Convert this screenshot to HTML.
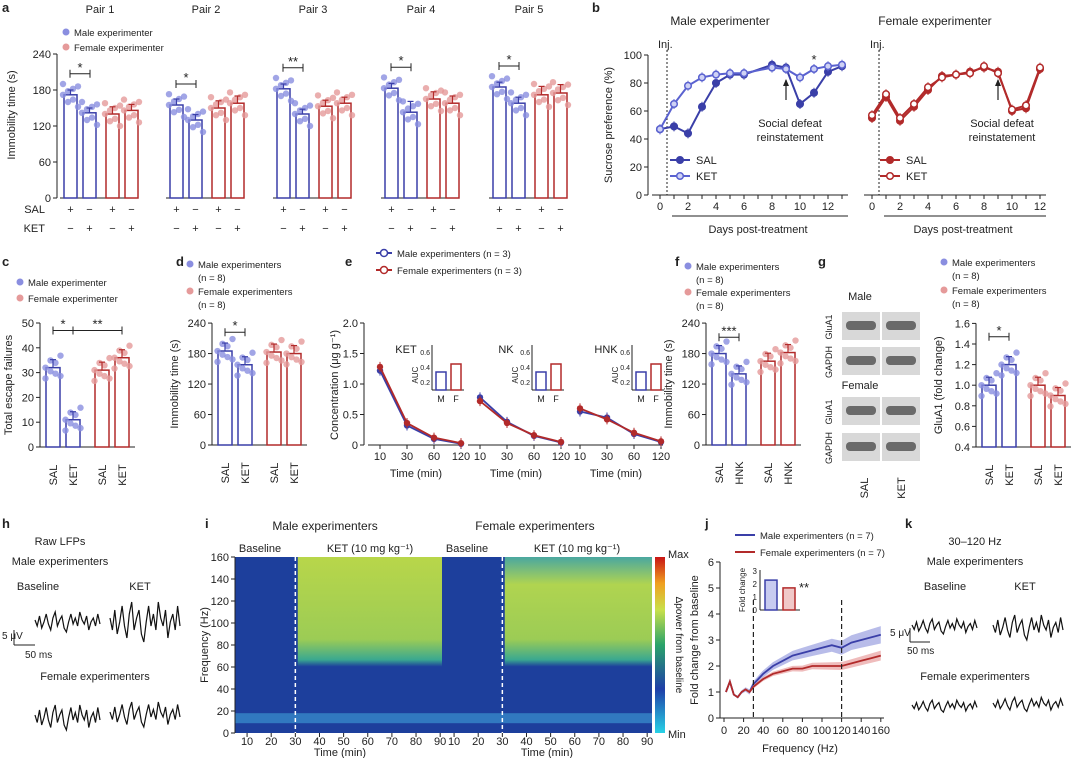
<!DOCTYPE html>
<html><head><meta charset="utf-8">
<style>
body{margin:0;background:#fff;}
svg{display:block;font-family:"Liberation Sans",sans-serif;}
text{fill:#222;}
</style></head>
<body>
<svg id="fig" width="1080" height="758" viewBox="0 0 1080 758" xmlns="http://www.w3.org/2000/svg">
<defs>
<linearGradient id="cbar" x1="0" y1="1" x2="0" y2="0">
<stop offset="0" stop-color="#28d2e6"/><stop offset="0.25" stop-color="#1f3fa8"/><stop offset="0.5" stop-color="#2aa36a"/><stop offset="0.7" stop-color="#c9e04a"/><stop offset="0.85" stop-color="#f0a020"/><stop offset="1" stop-color="#c81414"/>
</linearGradient>
<linearGradient id="hotM" x1="0" y1="0" x2="0" y2="1">
<stop offset="0" stop-color="#b8d64a"/><stop offset="0.6" stop-color="#9ccc55"/><stop offset="0.75" stop-color="#3aa890"/><stop offset="0.8" stop-color="#1d3f9c"/><stop offset="1" stop-color="#1d3f9c"/>
</linearGradient>
<linearGradient id="hotF" x1="0" y1="0" x2="0" y2="1">
<stop offset="0" stop-color="#4aa7a0"/><stop offset="0.2" stop-color="#b0d450"/><stop offset="0.6" stop-color="#9ccc55"/><stop offset="0.75" stop-color="#3aa890"/><stop offset="0.8" stop-color="#1d3f9c"/><stop offset="1" stop-color="#1d3f9c"/>
</linearGradient>
</defs>
<g id="root"></g>
</svg>
<script>
// ---------- data ----------
const pairNames=["Pair 1","Pair 2","Pair 3","Pair 4","Pair 5"];
const pairVals=[[172,142,140,146],[155,130,150,158],[182,140,153,158],[183,143,165,158],[185,158,172,175]];
const pairErr=[[8,8,12,10],[10,9,12,12],[8,8,10,10],[8,18,12,12],[8,10,14,14]];
const yTicksA=[0,60,120,180,240];
const days=[0,1,2,3,4,5,6,8,9,10,11,12,13];
const maleSAL=[47,49,44,63,80,86,86,93,91,65,73,88,92];
const maleKET=[47,65,78,84,86,87,87,91,90,84,90,92,93];
const daysF=[0,1,2,3,4,5,6,7,8,9,10,11,12];
const femSAL=[55,70,53,63,75,85,86,88,91,88,60,62,90];
const femKET=[57,72,55,65,77,84,86,87,92,87,61,64,91];
const yTicksB=[0,20,40,60,80,100];
const cVals=[32,11,31,36];
const dVals=[185,158,183,180];
const fVals=[180,140,165,182];
const gVals=[1.0,1.2,1.0,0.9];
const eTimes=[10,30,60,120];
const eKET_M=[1.22,0.32,0.1,0.02];const eKET_F=[1.28,0.36,0.12,0.03];
const eNK_M=[0.78,0.38,0.15,0.04];const eNK_F=[0.72,0.36,0.16,0.05];
const eHNK_M=[0.55,0.45,0.18,0.05];const eHNK_F=[0.6,0.42,0.2,0.06];
const jFreq=[2,6,10,14,18,22,26,30,40,50,60,70,80,90,100,110,120,130,140,150,160];
const jMale=[1.0,1.4,0.9,0.8,1.0,1.1,1.0,1.3,1.7,2.0,2.2,2.4,2.5,2.6,2.7,2.8,2.7,2.9,3.0,3.1,3.2];
const jFem=[1.0,1.4,0.9,0.8,1.0,1.1,1.0,1.2,1.5,1.7,1.8,1.9,1.9,2.0,2.0,2.0,2.0,2.1,2.2,2.3,2.4];
const jInset=[2.3,1.7];
const trace=[0,3,-2,4,1,-3,2,5,-1,-4,3,0,-2,4,6,1,-3,2,-1,3,-4,0,2,-2,5,1,-1,3,-3,2];
const jitter=[0,-12,10,-20,18,6,-8,14];
// ---------- helpers ----------
const NS="http://www.w3.org/2000/svg";const root=document.getElementById('root');
function el(tag,attrs,parent,txt){const e=document.createElementNS(NS,tag);for(const k in attrs)e.setAttribute(k,attrs[k]);if(txt!==undefined)e.textContent=txt;(parent||root).appendChild(e);return e;}
function T(x,y,s,size,opt){opt=opt||{};const e=el('text',{x:x,y:y,'font-size':size||11,'text-anchor':opt.a||'start'},null,s);if(opt.b)e.setAttribute('font-weight','bold');if(opt.rot)e.setAttribute('transform',`rotate(${opt.rot} ${x} ${y})`);

return e;}
function L(x1,y1,x2,y2,c,w,d){const e=el('line',{x1:x1,y1:y1,x2:x2,y2:y2,stroke:c||'#222','stroke-width':w||1});if(d)e.setAttribute('stroke-dasharray',d);return e;}
const BL='#3a3fa8',RD='#b22a2a',BLF='#8a8ee0',RDF='#e59a9a';
function yAxis(x,yOf,ticks,fmt,name){const g=el('g',{});
el('line',{x1:x,y1:yOf(ticks[0]),x2:x,y2:yOf(ticks[ticks.length-1]),stroke:'#222'},g);
ticks.forEach(t=>{el('line',{x1:x-4,y1:yOf(t),x2:x,y2:yOf(t),stroke:'#222'},g);el('text',{x:x-6,y:yOf(t)+4,'font-size':11,'text-anchor':'end'},g,fmt?fmt(t):t);});}
function bar(x,w,y0,yv,col,fill,name){const r=el('rect',{x:x,y:Math.min(y0,yv),width:w,height:Math.abs(y0-yv),fill:fill,stroke:col,'stroke-width':1.5});return r;}
function dots(cx,yOf,col,n,spread){for(let i=0;i<n;i++){const off=((i%4)-1.5)*spread/2;const c=el('circle',{cx:cx+off,cy:yOf(jitter[i%8]),r:3.2,fill:col,opacity:0.8});}}
function errbar(x,y1,y2,col){L(x,y1,x,y2,col,1.2);L(x-3,y2,x+3,y2,col,1.2);}
function sig(x1,x2,y,s){L(x1,y,x2,y,'#222',1);L(x1,y-4,x1,y+4);L(x2,y-4,x2,y+4);T((x1+x2)/2,y-2,s,13,{a:'middle',name:'significance'});}
function panelLetter(x,y,s){T(x,y,s,13,{b:true,name:'panel-letter-'+s});}

// ---------- panel a ----------
panelLetter(2,12,'a');
const yA=v=>198-v*0.6;
yAxis(57,yA,yTicksA,null,'y-axis-a');
T(15,115,'Immobility time (s)',11,{a:'middle',rot:-90,name:'y-axis-title-a'});
const groupX=[60,166,273,381,489];
pairNames.forEach((p,gi)=>{const gx=groupX[gi];T(gx+40,13,p,11,{a:'middle',name:'pair-title'});
 L(gx,198,gx+78,198);
 const xs=[gx+4,gx+23,gx+46,gx+65];
 pairVals[gi].forEach((v,i)=>{const col=i<2?BL:RD;const fc=i<2?BLF:RDF;
  bar(xs[i],13,198,yA(v),col,'none','bar-'+p.replace(' ','').toLowerCase()+'-'+i);
  dots(xs[i]+6.5,d=>yA(v+d),fc,8,10);
  errbar(xs[i]+6.5,yA(v),yA(v+pairErr[gi][i]),col);
  T(xs[i]+6.5,213,i%2===0?'+':'−',11,{a:'middle',name:'sal-sign'});T(xs[i]+6.5,232,i%2===1?'+':'−',11,{a:'middle',name:'ket-sign'});
 });
 sig(xs[0]+6,xs[1]+7,yA(Math.max(pairVals[gi][0],pairVals[gi][1])+35),gi===2?'**':'*');
});
T(45,213,'SAL',11,{a:'end',name:'sal-row-label'});T(45,232,'KET',11,{a:'end',name:'ket-row-label'});
el('circle',{cx:66,cy:32,r:3.5,fill:BLF});T(74,36,'Male experimenter',9.5,{name:'legend-male'});
el('circle',{cx:66,cy:47,r:3.5,fill:RDF});T(74,51,'Female experimenter',9.5,{name:'legend-female'});

// ---------- panel b ----------
panelLetter(592,12,'b');
const yB=v=>195-v*1.4;
yAxis(648,yB,yTicksB,null,'y-axis-b');
T(612,125,'Sucrose preference (%)',11,{a:'middle',rot:-90,name:'y-axis-title-b'});
function lineSeries(xOf,xs,ys,col,fill,name){const d=xs.map((x,i)=>(i?'L':'M')+xOf(x)+','+yB(ys[i])).join('');const p=el('path',{d:d,stroke:col,'stroke-width':2,fill:'none'});
 xs.forEach((x,i)=>{L(xOf(x),yB(ys[i])-5,xOf(x),yB(ys[i])+5,col,1);const c=el('circle',{cx:xOf(x),cy:yB(ys[i]),r:3.3,fill:fill,stroke:col,'stroke-width':1.5});});}
const xBM=d=>660+d*14;const xBF=d=>872+d*14;
T(720,25,'Male experimenter',12,{a:'middle',name:'title-b-male'});T(935,25,'Female experimenter',12,{a:'middle',name:'title-b-female'});
[[xBM,13,'male'],[xBF,12,'female']].forEach(([xf,mx,nm])=>{L(xf(0)-8,195,xf(mx)+6,195);
 for(let d=0;d<=mx;d++){L(xf(d),195,xf(d),199);}
 [0,2,4,6,8,10,12].forEach(d=>T(xf(d),210,d,11,{a:'middle',name:'x-tick-b'}));
 L(xf(1)-2,216,xf(mx)+6,216,'#222',1);
 L(xf(0.5),50,xf(0.5),195,'#222',1,'2,2');T(xf(0)-2,48,'Inj.',11,{name:'injection-label'});
 T((xf(1)+xf(mx))/2,233,'Days post-treatment',11,{a:'middle',name:'x-axis-title-b-'+nm});
 L(xf(9),100,xf(9),80,'#222',1.2);el('path',{d:`M${xf(9)-3},86 L${xf(9)},79 L${xf(9)+3},86Z`,fill:'#222'});
 T(xf(9)+4,127,'Social defeat',11,{a:'middle',name:'annotation'});T(xf(9)+4,141,'reinstatement',11,{a:'middle',name:'annotation'});});
lineSeries(xBM,days,maleSAL,BL,BL,'male-sal');lineSeries(xBM,days,maleKET,'#5a62d0','#cfd2f5','male-ket');
lineSeries(xBF,daysF,femSAL,RD,RD,'female-sal');lineSeries(xBF,daysF,femKET,RD,'#fff','female-ket');
T(xBM(11),64,'*',13,{a:'middle',name:'significance'});
[[670,BL,BL,'SAL',160],[670,'#5a62d0','#cfd2f5','KET',176],[880,RD,RD,'SAL',160],[880,RD,'#fff','KET',176]].forEach(([x,c,f,s,y])=>{L(x,y,x+20,y,c,2);el('circle',{cx:x+10,cy:y,r:3.3,fill:f,stroke:c,'stroke-width':1.5});T(x+26,y+4,s,11,{name:'legend-b'});});

// ---------- generic small bar panel ----------
function smallBars(x0,yOf,ticks,vals,fmt,labels,nm,ytitle,tOff){yAxis(x0,yOf,ticks,fmt,'y-axis-'+nm);
 T(x0-(tOff||34),(yOf(ticks[0])+yOf(ticks[ticks.length-1]))/2,ytitle,11,{a:'middle',rot:-90,name:'y-axis-title-'+nm});
 const base=yOf(ticks[0]);const xs=[x0+6,x0+26,x0+55,x0+75];L(x0,base,x0+95,base);
 vals.forEach((v,i)=>{const col=i<2?BL:RD;bar(xs[i],14,base,yOf(v),col,'none','bar-'+nm+'-'+i);
 dots(xs[i]+7,d=>yOf(v)+d*0.6,i<2?BLF:RDF,8,10);errbar(xs[i]+7,yOf(v),yOf(v)-8,col);
 T(xs[i]+11,base+28,labels[i],11,{a:'middle',rot:-90,name:'x-label-'+nm});});return xs;}
// c
panelLetter(2,266,'c');
el('circle',{cx:20,cy:282,r:3.5,fill:BLF});T(28,286,'Male experimenter',9.5,{name:'legend-c'});
el('circle',{cx:20,cy:298,r:3.5,fill:RDF});T(28,302,'Female experimenter',9.5,{name:'legend-c'});
const yC=v=>447-v*2.48;
let xs=smallBars(40,yC,[0,10,20,30,40,50],cVals,null,['SAL','KET','SAL','KET'],'c','Total escape failures',28);
sig(xs[0]+7,xs[1]+7,yC(47),'*');sig(xs[1]+7,xs[3]+7,yC(47),'**');
// d
panelLetter(176,266,'d');
el('circle',{cx:190,cy:264,r:3.5,fill:BLF});T(198,268,'Male experimenters',9.5,{name:'legend-d'});T(198,281,'(n = 8)',9.5,{name:'legend-d'});
el('circle',{cx:190,cy:291,r:3.5,fill:RDF});T(198,295,'Female experimenters',9.5,{name:'legend-d'});T(198,308,'(n = 8)',9.5,{name:'legend-d'});
const yD=v=>445-v*0.508;
xs=smallBars(212,yD,[0,60,120,180,240],dVals,null,['SAL','KET','SAL','KET'],'d','Immobility time (s)');
sig(xs[0]+7,xs[1]+7,yD(222),'*');
// e
panelLetter(345,266,'e');
L(376,253,392,253,BL,2);el('circle',{cx:384,cy:253,r:3.5,fill:'#fff',stroke:BL,'stroke-width':1.5});T(397,257,'Male experimenters (n = 3)',9.5,{name:'legend-e'});
L(376,270,392,270,RD,2);el('circle',{cx:384,cy:270,r:3.5,fill:'#fff',stroke:RD,'stroke-width':1.5});T(397,274,'Female experimenters (n = 3)',9.5,{name:'legend-e'});
const yE=v=>445-v*61;
yAxis(364,yE,[0,0.5,1,1.5,2],t=>t===0?'0':t.toFixed(1),'y-axis-e');
T(338,385,'Concentration (μg g⁻¹)',11,{a:'middle',rot:-90,name:'y-axis-title-e'});
const eSets=[['KET',eKET_M,eKET_F,368],['NK',eNK_M,eNK_F,468],['HNK',eHNK_M,eHNK_F,568]];
eSets.forEach(([nm,m,f,x0])=>{const xOf=i=>x0+12+i*27;L(x0,445,x0+95,445);
 eTimes.forEach((t,i)=>{T(xOf(i),460,t,11,{a:'middle',name:'x-tick-e'});L(xOf(i),445,xOf(i),449);});
 T(x0+48,477,'Time (min)',11,{a:'middle',name:'x-axis-title-e'});T(x0+38,353,nm,11,{a:'middle',name:'title-e'});
 [[m,BL],[f,RD]].forEach(([s,c])=>{el('path',{d:s.map((v,i)=>(i?'L':'M')+xOf(i)+','+yE(v)).join(''),stroke:c,'stroke-width':1.8,fill:'none'});s.forEach((v,i)=>{L(xOf(i),yE(v)-5,xOf(i),yE(v)+5,c);el('circle',{cx:xOf(i),cy:yE(v),r:3.2,fill:c});});});
 const ix=x0+64;L(ix,345,ix,390);L(ix,390,ix+32,390);['0.2','0.4','0.6'].forEach((t,i)=>{T(ix-2,385-i*15,t,7,{a:'end',name:'inset-tick'});});
 T(ix-14,375,'AUC',8,{a:'middle',rot:-90,name:'inset-y-title'});
 bar(ix+4,10,390,372,BL,'none','inset-bar');bar(ix+19,10,390,364,RD,'none','inset-bar');
 T(ix+9,402,'M',9,{a:'middle',name:'inset-x'});T(ix+24,402,'F',9,{a:'middle',name:'inset-x'});});
// f
panelLetter(675,266,'f');
el('circle',{cx:688,cy:266,r:3.5,fill:BLF});T(696,270,'Male experimenters',9.5,{name:'legend-f'});T(696,283,'(n = 8)',9.5,{name:'legend-f'});
el('circle',{cx:688,cy:292,r:3.5,fill:RDF});T(696,296,'Female experimenters',9.5,{name:'legend-f'});T(696,309,'(n = 8)',9.5,{name:'legend-f'});
xs=smallBars(706,yD,[0,60,120,180,240],fVals,null,['SAL','HNK','SAL','HNK'],'f','Immobility time (s)');
sig(xs[0]+7,xs[1]+7,yD(212),'***');
// g
panelLetter(818,266,'g');
T(860,300,'Male',11,{a:'middle',name:'blot-male'});T(860,389,'Female',11,{a:'middle',name:'blot-female'});
[[322,'GluA1'],[357,'GAPDH'],[407,'GluA1'],[443,'GAPDH']].forEach(([y,l])=>{T(832,y+5,l,9,{a:'middle',rot:-90,name:'blot-label'});
 [842,882].forEach(x=>{el('rect',{x:x,y:y-10,width:38,height:28,fill:'#d8d8d8'});el('rect',{x:x+4,y:y-1,width:30,height:9,rx:4,fill:'#6a6a6a'});});});
T(868,488,'SAL',11,{a:'middle',rot:-90,name:'blot-x'});T(905,488,'KET',11,{a:'middle',rot:-90,name:'blot-x'});
el('circle',{cx:944,cy:262,r:3.5,fill:BLF});T(952,266,'Male experimenters',9.5,{name:'legend-g'});T(952,279,'(n = 8)',9.5,{name:'legend-g'});
el('circle',{cx:944,cy:290,r:3.5,fill:RDF});T(952,294,'Female experimenters',9.5,{name:'legend-g'});T(952,307,'(n = 8)',9.5,{name:'legend-g'});
const yG=v=>447-(v-0.4)*103;
xs=smallBars(976,yG,[0.4,0.6,0.8,1.0,1.2,1.4,1.6],gVals,t=>t.toFixed(1),['SAL','KET','SAL','KET'],'g','GluA1 (fold change)');
sig(xs[0]+7,xs[1]+7,yG(1.47),'*');

// ---------- h ----------
panelLetter(2,528,'h');
T(60,545,'Raw LFPs',11,{a:'middle',name:'title-h'});T(60,565,'Male experimenters',11,{a:'middle',name:'subtitle-h'});
T(38,590,'Baseline',11,{a:'middle',name:'label-h'});T(140,590,'KET',11,{a:'middle',name:'label-h'});
T(95,680,'Female experimenters',11,{a:'middle',name:'subtitle-h'});
function tr(x0,y0,w,amp,name){const d=trace.map((v,i)=>(i?'L':'M')+(x0+i*w/(trace.length-1)).toFixed(1)+','+(y0+v*amp).toFixed(1)).join('');const p=el('path',{d:d,stroke:'#111','stroke-width':1.2,fill:'none'});}
tr(35,620,65,2,'trace-h-male-baseline');tr(110,618,70,4,'trace-h-male-ket');tr(35,715,65,2.5,'trace-h-female-baseline');tr(110,712,70,2.5,'trace-h-female-ket');
L(14,630,14,645);L(14,645,35,645);T(2,639,'5 μV',10,{name:'scalebar'});T(25,658,'50 ms',10,{name:'scalebar'});

// ---------- i heatmaps ----------
panelLetter(205,528,'i');
T(325,530,'Male experimenters',12,{a:'middle',name:'title-i-male'});T(535,530,'Female experimenters',12,{a:'middle',name:'title-i-female'});
const yI=f=>733-f*1.1;
[[235,'hotM','male'],[442,'hotF','female']].forEach(([x0,gr,nm])=>{const w=210;const xT=t=>x0+(t-5)*w/87;
 const r=el('rect',{x:x0,y:557,width:w,height:176,fill:'#1d3f9c'});
 el('rect',{x:xT(31),y:557,width:xT(92)-xT(31),height:137,fill:'url(#'+gr+')'});
 el('rect',{x:x0,y:yI(18),width:w,height:10,fill:'#3fa0d8',opacity:0.6});
 L(xT(30),557,xT(30),733,'#fff',1.5,'4,3');
 T(x0+25,552,'Baseline',11,{a:'middle',name:'label-baseline'});T(x0+135,552,'KET (10 mg kg⁻¹)',11,{a:'middle',name:'label-ket'});
 [10,20,30,40,50,60,70,80,90].forEach(t=>{L(xT(t),733,xT(t),737);T(xT(t),745,t,11,{a:'middle',name:'x-tick-i'});});
 T(x0+105,756,'Time (min)',11,{a:'middle',name:'x-axis-title-i'});});
yAxis(235,yI,[0,20,40,60,80,100,120,140,160],null,'y-axis-i');
T(208,645,'Frequency (Hz)',11,{a:'middle',rot:-90,name:'y-axis-title-i'});
const cb=el('rect',{x:655,y:557,width:10,height:176,fill:'url(#cbar)'});


T(668,558,'Max',11,{name:'colorbar-max'});T(668,738,'Min',11,{name:'colorbar-min'});
T(676,645,'Δpower from baseline',10,{a:'middle',rot:90,name:'colorbar-title'});

// ---------- j ----------
panelLetter(705,528,'j');
L(735,535,755,535,BL,2);T(760,539,'Male experimenters (n = 7)',9.5,{name:'legend-j'});
L(735,552,755,552,RD,2);T(760,556,'Female experimenters (n = 7)',9.5,{name:'legend-j'});
const yJ=v=>718-v*26;const xJ=f=>724+f*0.98;
yAxis(720,yJ,[0,1,2,3,4,5,6],null,'y-axis-j');
T(698,640,'Fold change from baseline',11,{a:'middle',rot:-90,name:'y-axis-title-j'});
L(720,718,884,718);[0,20,40,60,80,100,120,140,160].forEach(f=>{L(xJ(f),718,xJ(f),722);T(xJ(f),734,f,11,{a:'middle',name:'x-tick-j'});});
T(800,752,'Frequency (Hz)',11,{a:'middle',name:'x-axis-title-j'});
[[jMale,BL,'#9aa0e0',0.35],[jFem,RD,'#e8a0a0',0.2]].forEach(([s,c,f,band])=>{
 const up=jFreq.map((x,i)=>xJ(x)+','+yJ(s[i]+band*(i/jFreq.length))).join(' L');const dn=jFreq.map((x,i)=>xJ(x)+','+yJ(s[i]-band*(i/jFreq.length))).reverse().join(' L');
 el('path',{d:'M'+up+' L'+dn+'Z',fill:f,opacity:0.7});
 const ln=el('path',{d:jFreq.map((x,i)=>(i?'L':'M')+xJ(x)+','+yJ(s[i])).join(''),stroke:c,'stroke-width':1.8,fill:'none'});
 
 });
L(xJ(30),600,xJ(30),718,'#222',1.2,'5,3');L(xJ(120),600,xJ(120),718,'#222',1.2,'5,3');
const yJi=v=>610-v*13;
L(760,570,760,610);L(760,610,800,610);[0,1,2,3].forEach(t=>T(757,yJi(t)+3,t,8,{a:'end',name:'inset-tick-j'}));
T(745,590,'Fold change',8,{a:'middle',rot:-90,name:'inset-title-j'});
bar(765,12,610,yJi(jInset[0]),BL,'#c8cbf0','inset-bar-j-male');bar(783,12,610,yJi(jInset[1]),RD,'#f0c8c8','inset-bar-j-female');T(799,592,'**',13,{name:'significance'});

// ---------- k ----------
panelLetter(905,528,'k');
T(975,545,'30–120 Hz',11,{a:'middle',name:'title-k'});T(975,565,'Male experimenters',11,{a:'middle',name:'subtitle-k'});
T(945,590,'Baseline',11,{a:'middle',name:'label-k'});T(1025,590,'KET',11,{a:'middle',name:'label-k'});
T(975,680,'Female experimenters',11,{a:'middle',name:'subtitle-k'});
tr(912,625,65,1.5,'trace-k-male-baseline');tr(993,625,70,2.5,'trace-k-male-ket');tr(912,705,65,1.2,'trace-k-female-baseline');tr(993,703,70,1.4,'trace-k-female-ket');
L(910,628,910,642);L(910,642,930,642);T(890,636,'5 μV',10,{name:'scalebar'});T(907,654,'50 ms',10,{name:'scalebar'});
</script>
</body></html>
